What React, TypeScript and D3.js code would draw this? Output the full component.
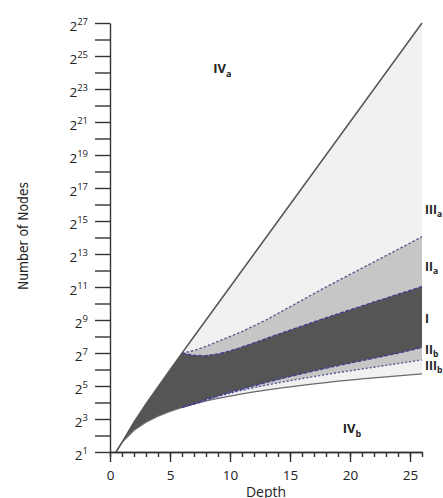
import React, { useEffect, useRef } from 'react';
import * as d3 from 'd3';

// all node counts are stored as log2(number of nodes)
// outer bounds: full tree (max) and sparsest tree (min) per depth
const depths = [0.5, 1, 2, 3, 4, 5, 6, 7, 8, 9, 10, 11, 12, 13, 14, 15, 16, 17, 18, 19, 20, 21, 22, 23, 24, 25, 26];
const maxNodes = [1, 1.58, 2.81, 3.91, 4.95, 5.98, 6.99, 8, 9, 10, 11, 12, 13, 14, 15, 16, 17, 18, 19, 20, 21, 22, 23, 24, 25, 26, 27];
const minNodes = [1, 1.58, 2.32, 2.81, 3.17, 3.46, 3.7, 3.91, 4.09, 4.25, 4.39, 4.52, 4.64, 4.75, 4.86, 4.95, 5.04, 5.13, 5.21, 5.29, 5.36, 5.43, 5.49, 5.55, 5.61, 5.67, 5.73];

// inner region boundaries, from depth 6 on
const bandDepths = [6, 7, 8, 9, 10, 11, 12, 13, 14, 15, 16, 17, 18, 19, 20, 21, 22, 23, 24, 25, 26];
const iiaTop = [6.99, 7.15, 7.4, 7.7, 8.0, 8.3, 8.65, 9.0, 9.4, 9.8, 10.2, 10.6, 11.0, 11.38, 11.76, 12.14, 12.52, 12.9, 13.28, 13.66, 14.05];
const iTop = [6.99, 6.85, 6.84, 6.94, 7.12, 7.36, 7.61, 7.87, 8.13, 8.38, 8.63, 8.88, 9.13, 9.37, 9.61, 9.85, 10.09, 10.32, 10.56, 10.79, 11.02];
const iBottom = [3.7, 3.92, 4.18, 4.4, 4.62, 4.82, 5.02, 5.21, 5.4, 5.58, 5.75, 5.92, 6.08, 6.24, 6.39, 6.54, 6.69, 6.84, 6.99, 7.16, 7.34];
const iiibBottom = [3.7, 3.91, 4.12, 4.36, 4.56, 4.74, 4.9, 5.05, 5.19, 5.32, 5.45, 5.57, 5.69, 5.81, 5.92, 6.03, 6.14, 6.25, 6.36, 6.47, 6.58];

const xMajor = [0, 5, 10, 15, 20, 25];
const yExponents = d3.range(1, 28);

// region labels: [main, subscript, depth, log2 nodes]
const regionLabels: [string, string, number, number][] = [
  ['IV', 'a', 8.6, 24.0],
  ['IV', 'b', 19.4, 2.15],
];
const sideLabels: [string, string, number][] = [
  ['III', 'a', 15.45],
  ['II', 'a', 11.95],
  ['I', '', 8.8],
  ['II', 'b', 6.95],
  ['III', 'b', 5.95],
];

const FONT = '"Open Sans", "DejaVu Sans", sans-serif';

export default function App() {
  const svgRef = useRef<SVGSVGElement>(null);

  useEffect(() => {
    const svg = d3.select(svgRef.current);
    svg.selectAll('*').remove();

    const x = d3.scaleLinear().domain([0, 26]).range([110, 422]);
    const y = d3.scaleLog().base(2).domain([2, 2 ** 27]).range([452, 23]);
    const ly = (v: number) => y(2 ** v);

    const outer = depths.map((d, i) => ({ d, top: maxNodes[i], bot: minNodes[i] }));
    const band = bandDepths.map((d, i) => ({
      d,
      iia: iiaTop[i],
      iTop: iTop[i],
      iBot: iBottom[i],
      iiib: iiibBottom[i],
      max: maxNodes[depths.indexOf(d)],
      min: minNodes[depths.indexOf(d)],
    }));
    const dark = outer
      .filter((p) => p.d < 6)
      .map((p) => ({ d: p.d, top: p.top, bot: p.bot }))
      .concat(band.map((p) => ({ d: p.d, top: p.iTop, bot: p.iBot })));

    // lightest region between outer bounds
    svg.append('path')
      .datum(band)
      .attr('d', d3.area<any>().x((p) => x(p.d)).y0((p) => ly(p.min)).y1((p) => ly(p.max)))
      .attr('fill', '#f1f1f1');

    // gray regions IIa / IIb
    svg.append('path')
      .datum(band)
      .attr('d', d3.area<any>().x((p) => x(p.d)).y0((p) => ly(p.iiib)).y1((p) => ly(p.iia)))
      .attr('fill', '#c6c6c6');

    // dark region I
    svg.append('path')
      .datum(dark)
      .attr('d', d3.area<any>().x((p) => x(p.d)).y0((p) => ly(p.bot)).y1((p) => ly(p.top)))
      .attr('fill', '#555555');

    const line = (key: string) => d3.line<any>().x((p) => x(p.d)).y((p) => ly(p[key]));

    svg.append('path').datum(outer).attr('d', line('bot'))
      .attr('fill', 'none').attr('stroke', '#6a6a6a').attr('stroke-width', 1.2);

    svg.append('path').datum(band).attr('d', line('iia'))
      .attr('fill', 'none').attr('stroke', '#5a5a8c').attr('stroke-width', 1.4)
      .attr('stroke-dasharray', '2.5,2');
    svg.append('path').datum(band).attr('d', line('iiib'))
      .attr('fill', 'none').attr('stroke', '#5a5a98').attr('stroke-width', 1.4)
      .attr('stroke-dasharray', '2,2');
    svg.append('path').datum(band).attr('d', line('iTop'))
      .attr('fill', 'none').attr('stroke', '#3f3f8a').attr('stroke-width', 1.4)
      .attr('stroke-dasharray', '4,1.5');
    svg.append('path').datum(band).attr('d', line('iBot'))
      .attr('fill', 'none').attr('stroke', '#3f3f8a').attr('stroke-width', 1.4)
      .attr('stroke-dasharray', '4,1.5');

    svg.append('path').datum(outer).attr('d', line('top'))
      .attr('fill', 'none').attr('stroke', '#555').attr('stroke-width', 1.5);

    // x axis: minor and major ticks
    const xg = svg.append('g').attr('transform', `translate(0,${y(2)})`);
    xg.append('g').call(d3.axisBottom(x).tickValues(d3.range(0, 27)).tickSize(5).tickSizeOuter(0).tickFormat(() => ''));
    xg.append('g').call(d3.axisBottom(x).tickValues(xMajor).tickSize(10).tickSizeOuter(0).tickPadding(8));
    xg.selectAll('path, line').attr('stroke', '#333').attr('stroke-width', 1.4);
    xg.selectAll('text').attr('font-family', FONT).attr('font-size', 13.5).attr('fill', '#222');

    // y axis with 2^n labels
    const yg = svg.append('g').attr('transform', `translate(${x(0)},0)`);
    yg.call(d3.axisLeft(y).tickValues(yExponents.map((e) => 2 ** e)).tickSize(15).tickSizeOuter(0).tickFormat(() => ''));
    yg.selectAll('path, line').attr('stroke', '#333').attr('stroke-width', 1.4);

    const labels = svg.append('g').attr('font-family', FONT).attr('fill', '#222');
    yExponents.filter((e) => e % 2 === 1).forEach((e) => {
      const t = labels.append('text').attr('x', 88).attr('y', ly(e) + 8).attr('text-anchor', 'end');
      t.append('tspan').attr('font-size', 13.5).text('2');
      t.append('tspan').attr('font-size', 9.5).attr('dy', -6).text(String(e));
    });

    svg.append('text')
      .attr('x', x(13)).attr('y', 497)
      .attr('text-anchor', 'middle')
      .attr('font-family', FONT).attr('font-size', 14).attr('fill', '#222')
      .text('Depth');

    svg.append('text')
      .attr('transform', `translate(28,236) rotate(-90)`)
      .attr('text-anchor', 'middle')
      .attr('font-family', '"Liberation Sans Narrow", "DejaVu Sans Condensed", ' + FONT)
      .attr('font-size', 14).attr('fill', '#222')
      .attr('textLength', 108).attr('lengthAdjust', 'spacingAndGlyphs')
      .text('Number of Nodes');

    const reg = svg.append('g').attr('font-family', FONT).attr('font-weight', 700).attr('fill', '#222');
    regionLabels.forEach(([m, s, d, v]) => {
      const t = reg.append('text').attr('x', x(d)).attr('y', ly(v));
      t.append('tspan').attr('font-size', 13).text(m);
      t.append('tspan').attr('font-size', 9).attr('dy', 4).text(s);
    });
    sideLabels.forEach(([m, s, v]) => {
      const t = reg.append('text').attr('x', 425).attr('y', ly(v));
      t.append('tspan').attr('font-size', 12).text(m);
      if (s) t.append('tspan').attr('font-size', 8.5).attr('dy', 3).text(s);
    });
  }, []);

  return (
    <svg
      ref={svgRef}
      width={443}
      height={498}
      style={{ position: 'absolute', left: 0, top: 0, background: '#fff' }}
    />
  );
}
